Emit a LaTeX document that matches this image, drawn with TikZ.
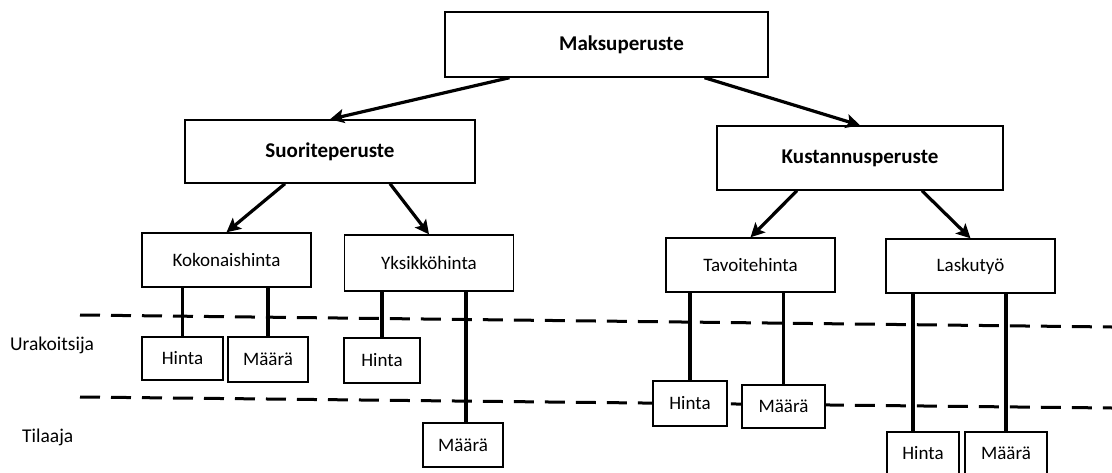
\documentclass[tikz,border=0pt]{standalone}
\usepackage{fontspec}
\setmainfont{Carlito}
\usetikzlibrary{arrows.meta,positioning,calc}

\begin{document}
\begin{tikzpicture}[
    x=1pt, y=-1pt,
    font=\fontsize{19}{22}\selectfont,
    every node/.style={align=center},
    head/.style={rectangle, draw, fill=white, line width=1.4pt, inner sep=0pt, font=\fontsize{21}{25}\selectfont\bfseries},
    kind/.style={rectangle, draw, fill=white, line width=1.4pt, inner sep=0pt, minimum width=169pt, minimum height=54pt},
    leaf/.style={rectangle, draw, fill=white, line width=1.2pt, inner sep=0pt, minimum height=44pt},
    party/.style={anchor=west, inner sep=0pt, font=\fontsize{19.5}{22}\selectfont},
    arr/.style={-{Stealth[length=14pt,width=14pt,inset=3pt]}, line width=3.2pt},
    link/.style={line width=3.4pt},
    divider/.style={line width=3pt, dash pattern=on 20pt off 11pt}
]
    \useasboundingbox[fill=white] (0,0) rectangle (1112,472);

    \draw[divider] (80,315) -- (1112,327);
    \draw[divider] (80,397) -- (1112,408);

    \node[head, minimum width=323pt, minimum height=65pt] (maksu) at (606.5,44.5) {\hspace*{30pt}Maksuperuste};
    \node[head, minimum width=290pt, minimum height=63pt] (suorite) at (330,151.5) {Suoriteperuste};
    \node[head, minimum width=286pt, minimum height=64pt] (kustannus) at (860,158) {Kustannusperuste};

    \node[kind] (koko) at (226.5,260) {Kokonaishinta};
    \node[kind, minimum height=56pt] (yksikko) at (429,263) {Yksikköhinta};
    \node[kind] (tavoite) at (750.5,265) {Tavoitehinta};
    \node[kind] (lasku) at (970.5,266) {Laskutyö};

    \node[leaf, minimum width=81pt, minimum height=43pt] (hintaA) at (182.5,358.5) {Hinta};
    \node[leaf, minimum width=80pt, minimum height=45pt] (maaraA) at (268,359.5) {Määrä};
    \node[leaf, minimum width=76pt, minimum height=45pt] (hintaB) at (382,360.5) {Hinta};
    \node[leaf, minimum width=80pt] (maaraB) at (463,445) {Määrä};
    \node[leaf, minimum width=74pt, minimum height=45pt] (hintaC) at (690,403.5) {Hinta};
    \node[leaf, minimum width=83pt, minimum height=43pt] (maaraC) at (783.5,406.5) {Määrä};
    \node[leaf, minimum width=72pt, minimum height=42pt] (hintaD) at (923,453) {Hinta};
    \node[leaf, minimum width=82pt, minimum height=42pt] (maaraD) at (1006,453) {Määrä};

    \node[party] (urak) at (10,345) {Urakoitsija};
    \node[party] (tilaaja) at (22,437) {Tilaaja};

    \draw[arr] ([xshift=-97pt]maksu.south) -- (suorite.north);
    \draw[arr] ([xshift=98pt]maksu.south) -- (kustannus.north);
    \draw[arr] ([xshift=-45pt]suorite.south) -- (koko.north);
    \draw[arr] ([xshift=60pt]suorite.south) -- (yksikko.north);
    \draw[arr] ([xshift=-63pt]kustannus.south) -- (tavoite.north);
    \draw[arr] ([xshift=62pt]kustannus.south) -- (lasku.north);

    \draw[link] (hintaA.north |- koko.south) -- (hintaA.north);
    \draw[link] (maaraA.north |- koko.south) -- (maaraA.north);
    \draw[link] (hintaB.north |- yksikko.south) -- (hintaB.north);
    \draw[link] ([xshift=3pt]maaraB.north |- yksikko.south) -- ([xshift=3pt]maaraB.north);
    \draw[link] (hintaC.north |- tavoite.south) -- (hintaC.north);
    \draw[link] (maaraC.north |- tavoite.south) -- (maaraC.north);
    \draw[link] ([xshift=-10pt]hintaD.north |- lasku.south) -- ([xshift=-10pt]hintaD.north);
    \draw[link] (maaraD.north |- lasku.south) -- (maaraD.north);
\end{tikzpicture}
\end{document}
